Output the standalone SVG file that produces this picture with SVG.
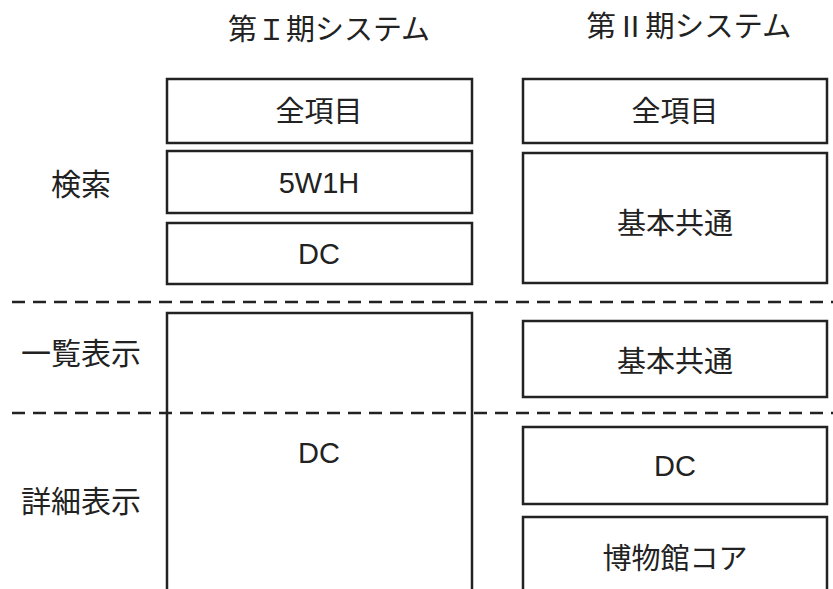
<svg xmlns="http://www.w3.org/2000/svg" width="833" height="589" viewBox="0 0 833 589">
<style>
.box{fill:#fff;stroke:#222;stroke-width:2.5}
.t{font-family:"Liberation Sans","Noto Sans CJK JP",sans-serif;font-size:29px;fill:#222;text-anchor:middle}
.l{font-family:"Liberation Sans","Noto Sans CJK JP",sans-serif;font-size:30px;fill:#222;text-anchor:middle}
.h{font-family:"Liberation Sans","Noto Sans CJK JP",sans-serif;font-size:29px;fill:#222;text-anchor:middle}
.dash{stroke:#222;stroke-width:2.5;stroke-dasharray:13 8;fill:none}
</style>
<rect width="833" height="589" fill="#fff"/>
<g id="headers">
<text class="h" x="329" y="40" textLength="202" lengthAdjust="spacingAndGlyphs">第Ｉ期システム</text>
<text class="h" x="689" y="37" textLength="205" lengthAdjust="spacingAndGlyphs">第Ⅱ期システム</text>
<text class="l" x="81" y="195">検索</text>
<text class="l" x="81" y="364">一覧表示</text>
<text class="l" x="81" y="512">詳細表示</text>
</g>
<g id="connectors">
<line class="dash" x1="12" y1="302" x2="833" y2="302"/>
</g>
<g id="i-all"><rect class="box" x="167" y="79" width="305" height="64"/><text class="t" x="319" y="122">全項目</text></g>
<g id="i-5w1h"><rect class="box" x="167" y="151" width="305" height="62"/><text class="t" x="319" y="193">5W1H</text></g>
<g id="i-dc-search"><rect class="box" x="167" y="223" width="305" height="61"/><text class="t" x="319" y="264">DC</text></g>
<g id="i-dc"><path class="box" d="M167 600 V313 H472 V600"/><text class="t" x="319" y="463">DC</text></g>
<g id="ii-all"><rect class="box" x="523" y="79" width="304" height="64"/><text class="t" x="675" y="122">全項目</text></g>
<g id="ii-kihon1"><rect class="box" x="523" y="153" width="304" height="130"/><text class="t" x="675" y="234">基本共通</text></g>
<g id="ii-kihon2"><rect class="box" x="523" y="321" width="304" height="76"/><text class="t" x="675" y="372">基本共通</text></g>
<g id="ii-dc"><rect class="box" x="523" y="427" width="304" height="77"/><text class="t" x="675" y="476">DC</text></g>
<g id="ii-museum"><path class="box" d="M523 600 V517 H827 V600"/><text class="t" x="675" y="569">博物館コア</text></g>
<g id="connectors2">
<line class="dash" x1="12" y1="413" x2="833" y2="413"/>
</g>
</svg>
